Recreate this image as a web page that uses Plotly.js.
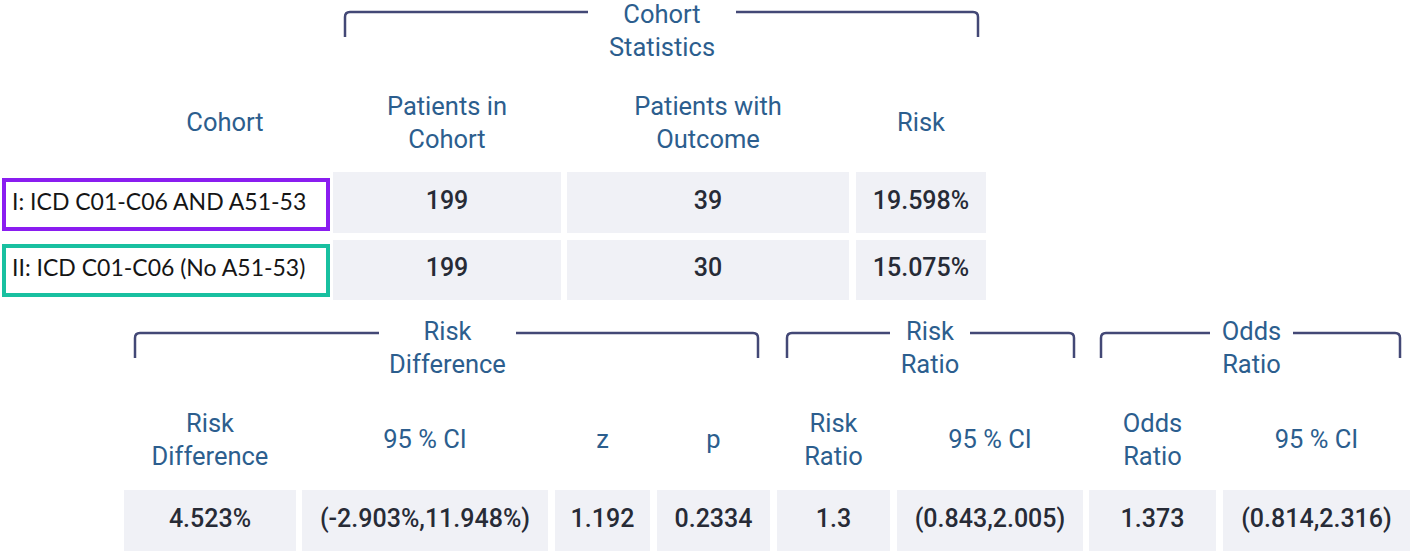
<!DOCTYPE html>
<html>
<head>
<meta charset="utf-8">
<script src="https://cdn.plot.ly/plotly-3.0.1.min.js"></script>
<style>
  html, body { margin: 0; padding: 0; background: #fff; }
  #chart { width: 1415px; height: 556px; }
</style>
</head>
<body>
<div id="chart"></div>
<script>
// cohort table
var cohortLabels = ['I: ICD C01-C06 AND A51-53', 'II: ICD C01-C06 (No A51-53)'];
var patientsInCohort = [199, 199];
var patientsWithOutcome = [39, 30];
var riskPct = ['19.598%', '15.075%'];
var cohortHeaders = ['Cohort', 'Patients in<br>Cohort', 'Patients with<br>Outcome', 'Risk'];

// comparison table
var groupTitles = ['Cohort<br>Statistics', 'Risk<br>Difference', 'Risk<br>Ratio', 'Odds<br>Ratio'];
var measureHeaders = ['Risk<br>Difference', '95 % CI', 'z', 'p', 'Risk<br>Ratio', '95 % CI', 'Odds<br>Ratio', '95 % CI'];
var measureValues = ['4.523%', '(-2.903%,11.948%)', '1.192', '0.2334', '1.3', '(0.843,2.005)', '1.373', '(0.814,2.316)'];

// layout of the picture (pixel grid)
var topCols = [[333, 561], [567, 849], [856, 986]];
var topRows = [[172, 233], [240, 300]];
var labelBoxes = [[180, 229], [246, 295]];
var boxColors = ['#8a1df0', '#19c0a0'];
var botCols = [[124, 296], [302, 548], [555, 650], [657, 770], [777, 890], [897, 1083], [1089, 1216], [1223, 1410]];
var botRow = [490, 551];
var brackets = [
    {x0: 345, x1: 978, g0: 588, g1: 736, y: 12, ty: 33},
    {x0: 135, x1: 758, g0: 379, g1: 516, y: 333, ty: 350},
    {x0: 787, x1: 1074, g0: 890, g1: 970, y: 333, ty: 350},
    {x0: 1101, x1: 1400, g0: 1210, g1: 1293, y: 333, ty: 350}
];

var headColor = '#2c5e8e';
var valColor = '#272b36';
var cellFill = '#f0f1f6';
var lineColor = '#434876';

function mid(a){ return (a[0] + a[1]) / 2; }

var shapes = [];
// brackets
brackets.forEach(function(b){
    var r = 5, h = 25;
    var p = 'M ' + b.x0 + ' ' + (b.y + h) + ' L ' + b.x0 + ' ' + (b.y + r) +
        ' Q ' + b.x0 + ' ' + b.y + ' ' + (b.x0 + r) + ' ' + b.y + ' L ' + b.g0 + ' ' + b.y +
        ' M ' + b.g1 + ' ' + b.y + ' L ' + (b.x1 - r) + ' ' + b.y +
        ' Q ' + b.x1 + ' ' + b.y + ' ' + b.x1 + ' ' + (b.y + r) + ' L ' + b.x1 + ' ' + (b.y + h);
    shapes.push({type: 'path', path: p, xref: 'x', yref: 'y', line: {color: lineColor, width: 2.5}});
});
// cohort cells
topRows.forEach(function(row, i){
    topCols.forEach(function(c){
        shapes.push({type: 'rect', xref: 'x', yref: 'y', x0: c[0], x1: c[1], y0: row[0], y1: row[1],
            fillcolor: cellFill, line: {width: 0}, layer: 'below'});
    });
    shapes.push({type: 'rect', xref: 'x', yref: 'y', x0: 4, x1: 328, y0: labelBoxes[i][0], y1: labelBoxes[i][1],
        fillcolor: 'rgba(0,0,0,0)', line: {color: boxColors[i], width: 4}});
});
// comparison cells
botCols.forEach(function(c){
    shapes.push({type: 'rect', xref: 'x', yref: 'y', x0: c[0], x1: c[1], y0: botRow[0], y1: botRow[1],
        fillcolor: cellFill, line: {width: 0}, layer: 'below'});
});

var headFont = {family: 'Roboto', size: 25.5, color: headColor};
var valFont = {family: 'Roboto', size: 25, color: valColor, weight: 500};

var data = [];
// group titles
data.push({
    x: brackets.map(function(b){ return (b.g0 + b.g1) / 2; }),
    y: brackets.map(function(b){ return b.ty; }),
    text: groupTitles, mode: 'text', textposition: 'middle center',
    textfont: headFont, hoverinfo: 'skip'
});
// cohort headers
data.push({
    x: [225].concat(topCols.map(mid)),
    y: [125, 125, 125, 125],
    text: cohortHeaders, mode: 'text', textposition: 'middle center',
    textfont: headFont, hoverinfo: 'skip'
});
// cohort labels
data.push({
    x: [12, 12],
    y: labelBoxes.map(mid),
    text: cohortLabels, mode: 'text', textposition: 'middle right',
    textfont: {family: 'Lato', size: 23, color: '#151515'}, hoverinfo: 'skip'
});
// cohort values
topRows.forEach(function(row, i){
    data.push({
        x: topCols.map(mid),
        y: [mid(row), mid(row), mid(row)],
        text: [String(patientsInCohort[i]), String(patientsWithOutcome[i]), riskPct[i]],
        mode: 'text', textposition: 'middle center', textfont: valFont, hoverinfo: 'skip'
    });
});
// comparison headers and values
data.push({
    x: botCols.map(mid),
    y: botCols.map(function(){ return 442; }),
    text: measureHeaders, mode: 'text', textposition: 'middle center',
    textfont: headFont, hoverinfo: 'skip'
});
data.push({
    x: botCols.map(mid),
    y: botCols.map(function(){ return mid(botRow); }),
    text: measureValues, mode: 'text', textposition: 'middle center',
    textfont: valFont, hoverinfo: 'skip'
});

var layout = {
    width: 1415, height: 556,
    margin: {l: 0, r: 0, t: 0, b: 0},
    paper_bgcolor: '#ffffff', plot_bgcolor: '#ffffff',
    showlegend: false,
    xaxis: {range: [0, 1415], visible: false, fixedrange: true},
    yaxis: {range: [556, 0], visible: false, fixedrange: true},
    shapes: shapes
};

Plotly.newPlot('chart', data, layout, {staticPlot: true});
</script>
</body>
</html>
